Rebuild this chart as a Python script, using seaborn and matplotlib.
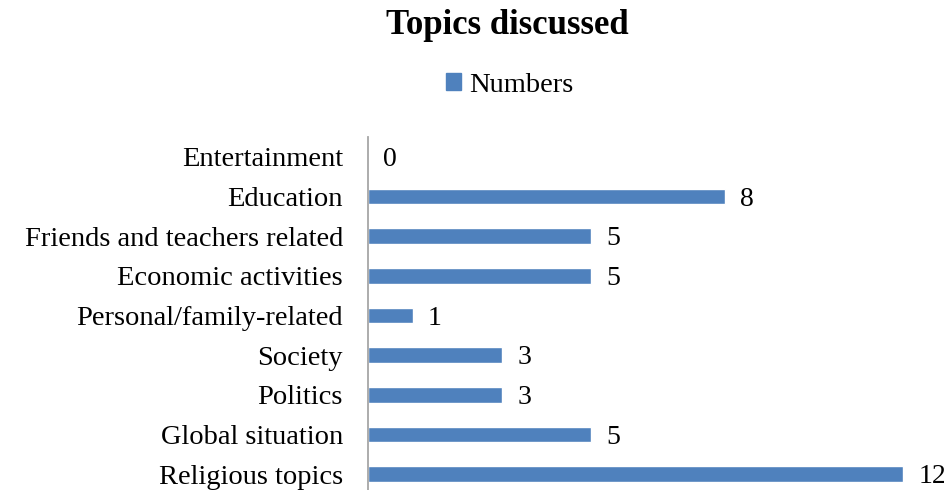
import matplotlib
matplotlib.use("Agg")
import matplotlib.pyplot as plt
from matplotlib.patches import Patch
import seaborn as sns
import pandas as pd

topics = ["Entertainment", "Education", "Friends and teachers related",
          "Economic activities", "Personal/family-related", "Society",
          "Politics", "Global situation", "Religious topics"]
numbers = [0, 8, 5, 5, 1, 3, 3, 5, 12]

bar_color = "#4F81BD"
df = pd.DataFrame({"Topic": topics, "Numbers": numbers})

sns.set_style("white")
plt.rcParams["font.family"] = ["Liberation Serif", "DejaVu Serif"]
plt.rcParams["text.color"] = "black"
plt.rcParams["ytick.color"] = "black"

W, H = 945, 490
fig = plt.figure(figsize=(W / 100, H / 100), dpi=100)
left, right = 368, 930
top, bottom = 137, 494
ax = fig.add_axes([left / W, (H - bottom) / H, (right - left) / W, (bottom - top) / H])

sns.barplot(data=df, x="Numbers", y="Topic", orient="h", color=bar_color,
            width=0.39, saturation=1, ax=ax)

ax.set_xlim(0, 12.6)
ax.set_ylim(8.5, -0.5)
ax.set_xlabel("")
ax.set_ylabel("")
ax.set_xticks([])
ax.tick_params(axis="y", length=0, pad=18, labelsize=20.5, labelcolor="black")
for s in ["top", "right", "bottom"]:
    ax.spines[s].set_visible(False)
ax.spines["left"].set_color("#A6A6A6")
ax.spines["left"].set_linewidth(1.3)

for i, v in enumerate(numbers):
    ax.annotate(str(v), xy=(v, i), xytext=(11, -2), textcoords="offset points",
                ha="left", va="center", fontsize=20, color="black")

fig.text(507 / W, 1 - 26 / H, "Topics discussed", ha="center", va="center",
         fontsize=25, fontweight="bold", color="black")
fig.legend(handles=[Patch(color=bar_color, label="Numbers")],
           loc="center", bbox_to_anchor=(510 / W, 1 - 85 / H), frameon=False,
           fontsize=20.5, handlelength=0.5, handleheight=0.5, handletextpad=0.3,
           labelcolor="black")

fig.savefig("out.png", dpi=100, facecolor="white")
